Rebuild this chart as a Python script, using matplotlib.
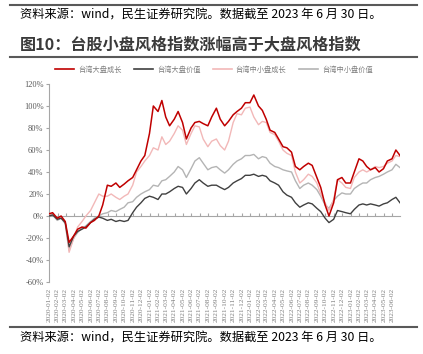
import matplotlib
matplotlib.use("Agg")
from matplotlib import pyplot as plt
from matplotlib.lines import Line2D
import numpy as np
import pandas as pd

plt.rcParams['font.family'] = ['Noto Sans CJK SC', 'DejaVu Sans']
plt.rcParams['axes.unicode_minus'] = False

# half-monthly readings (1st / 15th), 2020-01 .. 2023-06, plus 2023-06-30
dates = list(pd.date_range('2020-01-01', '2023-06-15', freq='SMS'))
dates[0] = pd.Timestamp('2020-01-02')
dates.append(pd.Timestamp('2023-06-30'))

large_growth = [
    2, 3, -2, 0, -5, -24, -18, -12, -10, -11, -6, -4, 0, 10, 28, 27, 30, 26, 29, 32, 35, 42, 50, 55,
    75, 100, 95, 105, 90, 82, 88, 95, 85, 70, 80, 85, 86, 84, 82, 90, 98, 88, 82, 86, 92, 95, 98, 103,
    103, 110, 100, 96, 88, 78, 76, 70, 63, 62, 58, 45, 42, 45, 48, 46, 35, 26, 10, 0, 12, 33, 35, 30,
    30, 40, 52, 50, 45, 42, 44, 40, 43, 50, 52, 60, 55,
]
large_value = [
    0, 1, -3, -2, -6, -28, -18, -14, -12, -10, -6, -3, -1, -2, -4, -3, -5, -4, -5, -4, 3, 8, 12, 16,
    18, 17, 15, 20, 20, 22, 25, 27, 26, 20, 25, 30, 33, 30, 27, 28, 28, 26, 24, 26, 30, 32, 34, 37,
    37, 38, 36, 37, 36, 32, 30, 28, 22, 19, 17, 12, 8, 10, 12, 11, 7, 4, -2, -6, -3, 5, 4, 3,
    2, 6, 10, 11, 10, 11, 10, 9, 11, 12, 15, 17, 12,
]
small_growth = [
    1, 2, -3, -1, -6, -33, -20, -10, -5, 0, 5, 12, 20, 18, 18, 20, 17, 15, 18, 20, 28, 40, 45, 50,
    55, 62, 60, 72, 65, 68, 75, 82, 78, 65, 75, 82, 81, 70, 63, 68, 70, 64, 60, 68, 85, 93, 92, 98,
    99, 90, 83, 86, 85, 76, 74, 68, 60, 57, 55, 40, 30, 33, 38, 36, 30, 20, 12, 5, 15, 33, 30, 26,
    25, 35, 40, 42, 40, 42, 45, 44, 45, 48, 50, 55, 54,
]
small_value = [
    0, 1, -4, -2, -7, -31, -20, -15, -11, -9, -5, -2, 0, 2, 3, 5, 4, 6, 8, 12, 13, 17, 20, 22,
    24, 28, 27, 32, 33, 36, 40, 45, 42, 35, 43, 50, 53, 48, 42, 44, 45, 42, 39, 42, 47, 50, 52, 55,
    55, 56, 52, 54, 53, 48, 45, 44, 42, 41, 40, 32, 25, 28, 30, 28, 24, 18, 10, 7, 14, 18, 21, 20,
    20, 25, 28, 30, 30, 33, 35, 36, 38, 40, 42, 47, 44,
]

labels = ['台湾大盘成长', '台湾大盘价值', '台湾中小盘成长', '台湾中小盘价值']
colors = ['#C00000', '#404040', '#F2B8B8', '#B4B4B4']
series = [large_growth, large_value, small_growth, small_value]

fig = plt.figure(figsize=(4.23, 3.54), dpi=100)
ax = fig.add_axes([49 / 423, 1 - 282 / 354, 351 / 423, 198 / 354])

# draw light lines first so the dark ones stay on top
for i in [3, 2, 1, 0]:
    ax.plot(dates, series[i], color=colors[i], lw=1.1 if i == 0 else 1.0, zorder=3 + (i < 2))

ax.set_ylim(-60, 120)
ax.set_yticks(np.arange(-60, 121, 20))
ax.set_yticklabels([f'{v}%' for v in range(-60, 121, 20)])
ax.set_xlim(pd.Timestamp('2020-01-02'), pd.Timestamp('2023-06-30'))

ticks = pd.date_range('2020-01-02', '2023-06-02', freq=pd.DateOffset(months=1))
ax.set_xticks(ticks)
ax.set_xticklabels([])
ax.spines['bottom'].set_position(('data', 0))
for s in ['top', 'right']:
    ax.spines[s].set_visible(False)
ax.spines['left'].set_color('#A6A6A6')
ax.spines['bottom'].set_color('#A6A6A6')
ax.tick_params(axis='x', direction='in', length=2.5, color='#A6A6A6')
ax.tick_params(axis='y', direction='out', length=2, color='#A6A6A6', labelsize=6,
               labelcolor='#595959', pad=2)
for t in ax.get_yticklabels():
    t.set_fontfamily('Liberation Serif')

sec = ax.secondary_xaxis(0.0)
sec.set_xticks(ticks)
sec.set_xticklabels([d.strftime('%Y-%m-%d') for d in ticks], rotation=90,
                    fontsize=5.3, color='#7F7F7F', fontfamily='Liberation Serif')
sec.tick_params(length=0, pad=4)
sec.spines['bottom'].set_visible(False)

handles = [Line2D([], [], color=c, lw=1.2) for c in colors]
fig.legend(handles, labels, loc='center', bbox_to_anchor=(214 / 423, 1 - 70 / 354), ncol=4,
           frameon=False, fontsize=5.2, handlelength=2.6, columnspacing=1.8, handletextpad=0.5,
           labelcolor='#7F7F7F')

# header / footer
src = '资料来源：wind，民生证券研究院。数据截至 2023 年 6 月 30 日。'
fig.add_artist(Line2D([10 / 423, 417 / 423], [1 - 5 / 354, 1 - 5 / 354], color='#595959', lw=1.5))
fig.text(20 / 423, 1 - 15 / 354, src, fontsize=8.8, va='center', color='#000000')
fig.text(20 / 423, 1 - 44 / 354, '图10：台股小盘风格指数涨幅高于大盘风格指数',
         fontsize=11.6, fontweight='bold', va='center', color='#3A3A3A')
fig.add_artist(Line2D([10 / 423, 417 / 423], [1 - 57 / 354, 1 - 57 / 354], color='#595959', lw=1.5))
fig.add_artist(Line2D([10 / 423, 417 / 423], [1 - 327 / 354, 1 - 327 / 354], color='#595959', lw=1.5))
fig.text(20 / 423, 1 - 338 / 354, src, fontsize=8.8, va='center', color='#000000')

fig.savefig('out.png', dpi=100)
